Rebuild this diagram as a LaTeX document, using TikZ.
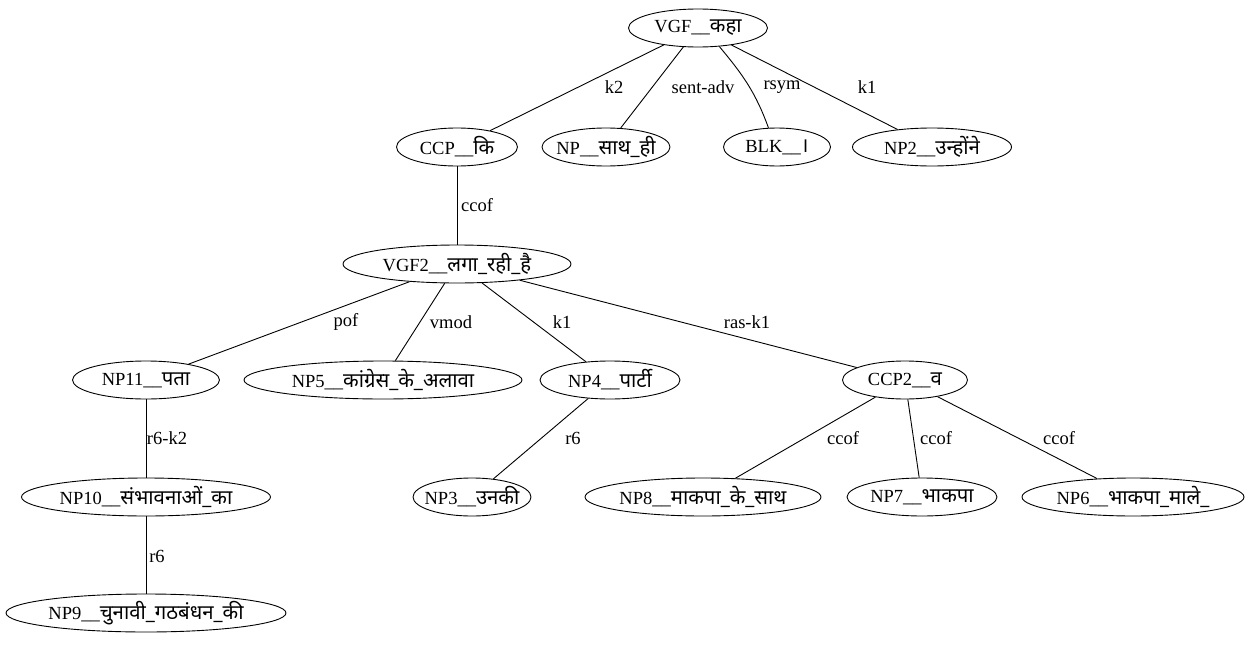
\documentclass[tikz,border=0pt]{standalone}
\usepackage{fontspec}
\setmainfont{Liberation Serif}
\newfontfamily\dv[Script=Devanagari,Scale=1.1]{Noto Sans}
\usetikzlibrary{shapes.geometric}
\newcommand{\lbl}[1]{\makebox[0pt]{#1}}
\tikzset{
  tok/.style={ellipse, draw, line width=0.9pt, inner sep=0pt, minimum height=38pt, font=\fontsize{18.5}{20}\selectfont},
  rel/.style={font=\fontsize{18.5}{20}\selectfont, inner sep=1pt},
  arc/.style={line width=0.9pt}
}
\begin{document}
\begin{tikzpicture}[x=1pt,y=-1pt]
\useasboundingbox (0,0) rectangle (1251,645);
% level 0
\node[tok, minimum width=139pt] (vgf) at (698,28) {\lbl{VGF\_\_{\dv कहा}}};
% level 1
\node[tok, minimum width=121pt] (ccp) at (457,147) {\lbl{CCP\_\_{\dv कि}}};
\node[tok, minimum width=128pt] (np) at (606,147) {\lbl{NP\_\_{\dv साथ\_ही}}};
\node[tok, minimum width=107pt] (blk) at (777,147) {\lbl{BLK\_\_{\dv ।}}};
\node[tok, minimum width=159pt] (np2) at (932,147) {\lbl{NP2\_\_{\dv उन्होंने}}};
% level 2
\node[tok, minimum width=228pt] (vgf2) at (457,264) {\lbl{VGF2\_\_{\dv लगा\_रही\_है}}};
% level 3
\node[tok, minimum width=147pt] (np11) at (146,380) {\lbl{NP11\_\_{\dv पता}}};
\node[tok, minimum width=278pt] (np5) at (383,380) {\lbl{NP5\_\_{\dv कांग्रेस\_के\_अलावा}}};
\node[tok, minimum width=140pt] (np4) at (610,380) {\lbl{NP4\_\_{\dv पार्टी}}};
\node[tok, minimum width=125pt] (ccp2) at (905,380) {\lbl{CCP2\_\_{\dv व}}};
% level 4
\node[tok, minimum width=249pt] (np10) at (146,497) {\lbl{NP10\_\_{\dv संभावनाओं\_का}}};
\node[tok, minimum width=118pt] (np3) at (472,497) {\lbl{NP3\_\_{\dv उनकी}}};
\node[tok, minimum width=236pt] (np8) at (703,497) {\lbl{NP8\_\_{\dv माकपा\_के\_साथ}}};
\node[tok, minimum width=150pt] (np7) at (922,497) {\lbl{NP7\_\_{\dv भाकपा}}};
\node[tok, minimum width=222pt] (np6) at (1133,497) {\lbl{NP6\_\_{\dv भाकपा\_माले\_}}};
% level 5
\node[tok, minimum width=280pt] (np9) at (146,613) {\lbl{NP9\_\_{\dv चुनावी\_गठबंधन\_की}}};

% dependency arcs
\draw[arc] (vgf) -- (ccp);
\draw[arc] (vgf) -- (np);
\draw[arc] (vgf.-41) to[out=-50,in=110] (blk.114);
\draw[arc] (vgf) -- (np2);
\draw[arc] (ccp) -- (vgf2);
\draw[arc] (vgf2) -- (np11);
\draw[arc] (vgf2) -- (np5);
\draw[arc] (vgf2) -- (np4);
\draw[arc] (vgf2) -- (ccp2);
\draw[arc] (np11) -- (np10);
\draw[arc] (np10) -- (np9);
\draw[arc] (np4) -- (np3);
\draw[arc] (ccp2) -- (np8);
\draw[arc] (ccp2) -- (np7);
\draw[arc] (ccp2) -- (np6);

% relation labels
\node[rel] (l1) at (614,87) {k2};
\node[rel] (l2) at (703,87) {sent-adv};
\node[rel] (l3) at (782,87) {rsym};
\node[rel] (l4) at (867,87) {k1};
\node[rel] (l5) at (477,205) {ccof};
\node[rel] (l6) at (346,322) {pof};
\node[rel] (l7) at (451,322) {vmod};
\node[rel] (l8) at (562,322) {k1};
\node[rel] (l9) at (747,322) {ras-k1};
\node[rel] (l10) at (167,438) {r6-k2};
\node[rel] (l11) at (573,438) {r6};
\node[rel] (l12) at (843,438) {ccof};
\node[rel] (l13) at (936,438) {ccof};
\node[rel] (l14) at (1059,438) {ccof};
\node[rel] (l15) at (157,556) {r6};
\end{tikzpicture}
\end{document}
